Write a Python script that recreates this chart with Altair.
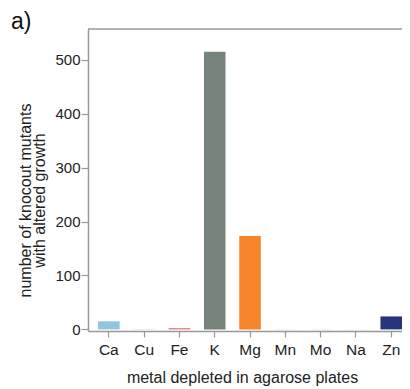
import altair as alt
import pandas as pd

metals = ["Ca", "Cu", "Fe", "K", "Mg", "Mn", "Mo", "Na", "Zn"]
counts = [15, 0.8, 2, 515, 173, 0.8, 0.8, 0.8, 24]
colors = ["#8fc5de", "#ddd6c8", "#e05a5a", "#76837b", "#f5842a",
          "#e4dfe6", "#e4e4e4", "#e6eaee", "#27337b"]
y_ticks = [0, 100, 200, 300, 400, 500]
panel_label = ["a)"]

df = pd.DataFrame({"metal": metals, "count": counts, "color": colors})

W, H = 314, 302
FONT = "Liberation Sans"

bars = alt.Chart(df).mark_bar().encode(
    x=alt.X("metal:N", sort=metals,
            scale=alt.Scale(paddingInner=0.39, paddingOuter=0.1425, align=1),
            axis=alt.Axis(title="metal depleted in agarose plates", labelAngle=0,
                          labelFontSize=15.5, tickSize=6, labelPadding=5,
                          titleX=154, titleY=38)),
    y=alt.Y("count:Q",
            scale=alt.Scale(domain=[-3, 557], nice=False, zero=False),
            axis=alt.Axis(values=y_ticks, title=["number of knocout mutants", "with altered growth"],
                          labelFontSize=15, tickSize=7, labelPadding=1,
                          titleX=-55, titleY=171, titleLineHeight=14)),
    y2=alt.datum(0),
    color=alt.Color("color:N", scale=None),
)

top = alt.Chart(pd.DataFrame({"k": [0]})).mark_rule(color="#999999", strokeWidth=1.5).encode(
    x=alt.value(0), x2=alt.value(W), y=alt.value(0)
)

label = alt.Chart(pd.DataFrame({"t": panel_label})).mark_text(
    align="left", baseline="alphabetic", fontSize=23, font=FONT, color="#111111"
).encode(text="t:N", x=alt.value(-77), y=alt.value(0))

chart = alt.layer(bars, top, label).properties(
    width=W, height=H,
    autosize=alt.AutoSizeParams(type="none"),
    padding={"left": 80, "top": 21, "right": 0, "bottom": 56},
).configure_view(stroke=None).configure_axis(
    grid=False, domainColor="#999999", domainWidth=1.5, tickColor="#999999", tickWidth=1.2,
    labelFont=FONT, labelColor="#222222",
    titleFont=FONT, titleFontSize=16, titleFontWeight="normal", titleColor="#222222",
)

chart.save("out.html", embed_options={"renderer": "svg", "actions": False})
